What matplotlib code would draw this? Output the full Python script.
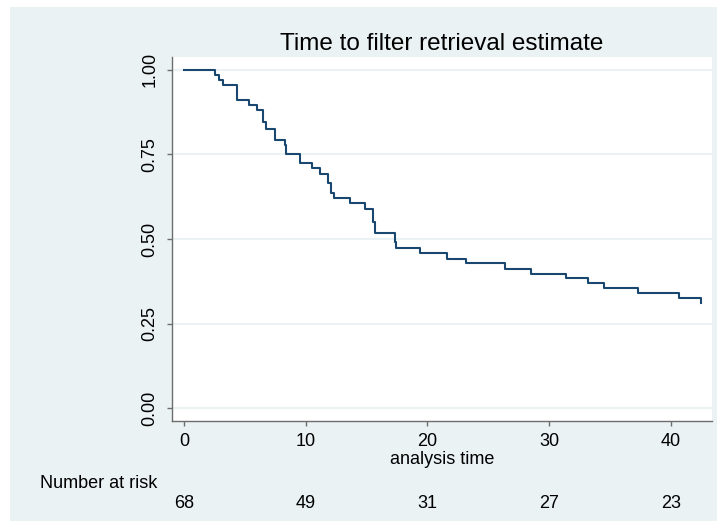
import matplotlib.pyplot as plt
import matplotlib.transforms as mtransforms
from matplotlib.patches import Rectangle

# Kaplan-Meier step data
times = [0, 2.5, 2.9, 3.18, 4.33, 5.34, 5.97, 6.52, 6.71, 7.45, 8.3, 8.4,
         9.5, 10.5, 11.2, 11.8, 12.1, 12.3, 13.6, 14.9, 15.5, 15.7, 17.3,
         17.45, 19.4, 21.6, 23.2, 26.4, 28.5, 31.4, 33.2, 34.5, 37.3, 40.7, 42.5]
surv = [1.0, 0.985, 0.971, 0.956, 0.912, 0.897, 0.882, 0.847, 0.824, 0.794, 0.779, 0.75,
        0.724, 0.709, 0.691, 0.665, 0.635, 0.620, 0.606, 0.588, 0.55, 0.517, 0.49,
        0.472, 0.458, 0.441, 0.428, 0.410, 0.398, 0.384, 0.369, 0.354, 0.339, 0.325, 0.310]

risk_times = [0, 10, 20, 30, 40]
risk_counts = [68, 49, 31, 27, 23]
yticks = [0, 0.25, 0.5, 0.75, 1.0]
yticklabels = ["0.00", "0.25", "0.50", "0.75", "1.00"]

plt.rcParams['font.family'] = ['Liberation Sans', 'DejaVu Sans']

bg = '#EAF2F3'
navy = '#1A476F'
axcol = '#6e6e6e'

fig = plt.figure(figsize=(7.17, 5.26), dpi=100)
fig.patch.set_facecolor('white')
# grey background panel (white border left/top)
fig.patches.append(Rectangle((10 / 717, 1 - 521 / 526), 707 / 717, 514 / 526,
                             transform=fig.transFigure, facecolor=bg,
                             edgecolor='none', zorder=-5))

ax = fig.add_axes([172 / 717, 1 - 421 / 526, 540 / 717, 364 / 526])
ax.set_zorder(2)
ax.set_facecolor('white')

ax.step(times, surv, where='post', color=navy, lw=1.5, zorder=3)

ax.set_xlim(-1.0, 43.4)
ax.set_ylim(-0.038, 1.038)
ax.set_yticks(yticks)
ax.set_yticklabels(yticklabels, rotation=90, va='center')
ax.set_xticks(risk_times)
ax.grid(axis='y', color=bg, lw=1.5)
ax.set_axisbelow(True)

for s in ['top', 'right']:
    ax.spines[s].set_visible(False)
for s in ['left', 'bottom']:
    ax.spines[s].set_color(axcol)
    ax.spines[s].set_linewidth(1.0)
ax.tick_params(axis='both', direction='out', length=3.6, color=axcol,
               labelsize=13, width=1.0)
ax.tick_params(axis='y', pad=6)
ax.tick_params(axis='x', pad=5)

ax.set_xlabel('analysis time', fontsize=13, labelpad=0.5)
ax.set_title('Time to filter retrieval estimate', fontsize=17.5, pad=5)

# number at risk table
trans = mtransforms.blended_transform_factory(ax.transData, fig.transFigure)
fig.text(40 / 717, 1 - 483 / 526, 'Number at risk', fontsize=13,
         ha='left', va='center')
for t, n in zip(risk_times, risk_counts):
    ax.text(t, 1 - 504 / 526, str(n), transform=trans, fontsize=13,
            ha='center', va='center', clip_on=False)

fig.savefig('out.png', dpi=100, facecolor=fig.get_facecolor())
